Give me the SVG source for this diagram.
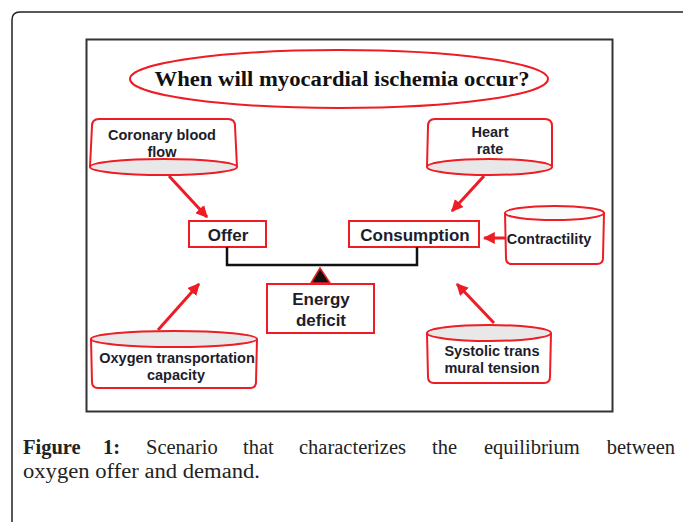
<svg xmlns="http://www.w3.org/2000/svg" width="683" height="522" viewBox="0 0 683 522">
<style>
.lbl{font-family:"Liberation Sans",Arial,sans-serif;font-weight:bold;fill:#1d1d2b;text-anchor:middle}
.s13{font-size:14.5px}
.s15{font-size:17px}
.red{fill:#fff;stroke:#ee1c24;stroke-width:2}
.cap{fill:#e8e8e8;stroke:#ee1c24;stroke-width:2}
.arr{stroke:#ee1c24;stroke-width:3;fill:none;marker-end:url(#ah)}
.cap-t{font-family:"Liberation Serif","Times New Roman",serif;font-size:20.5px;fill:#222}
.b{font-weight:bold}
</style>
<defs>
<marker id="ah" viewBox="0 0 10 10" refX="9" refY="5" markerWidth="4" markerHeight="4" orient="auto" markerUnits="strokeWidth">
<path d="M0,0 L10,5 L0,10 z" fill="#ee1c24"/>
</marker>
</defs>
<rect width="683" height="522" fill="#fff"/>
<path d="M12,522 V20 Q12,12 20,12 H683" fill="none" stroke="#222" stroke-width="1.5"/>
<rect x="86.5" y="39.5" width="526" height="372" fill="#fff" stroke="#333" stroke-width="2"/>

<g id="title">
<ellipse cx="339" cy="79" rx="209" ry="29" fill="none" stroke="#ee1c24" stroke-width="2"/>
<text x="342" y="86" font-family="'Liberation Serif','Times New Roman',serif" font-weight="bold" font-size="20" fill="#111" text-anchor="middle" textLength="375" lengthAdjust="spacingAndGlyphs">When will myocardial ischemia occur?</text>
</g>

<g id="coronary">
<path class="red" d="M90,167 L92,126 Q92,119 99,119 L228,119 Q235,119 235,126 L237,167"/>
<ellipse class="cap" cx="163.5" cy="167" rx="73.5" ry="8"/>
<text class="lbl s13" x="162" y="140">Coronary blood</text>
<text class="lbl s13" x="162" y="157">flow</text>
</g>

<g id="heart">
<path class="red" d="M427,167 L428,126 Q428,119 435,119 L545,119 Q552,119 552,126 L552,167"/>
<ellipse class="cap" cx="489.5" cy="167" rx="62.5" ry="8"/>
<text class="lbl s13" x="490" y="137">Heart</text>
<text class="lbl s13" x="490" y="154">rate</text>
</g>

<g id="contractility">
<path class="red" d="M505,213 L506,258 Q506,264 512,264 L597,264 Q603,264 603,258 L604,213"/>
<ellipse cx="554.5" cy="213" rx="49.5" ry="7" fill="#fafafa" stroke="#ee1c24" stroke-width="2"/>
<text class="lbl s13" x="549" y="244">Contractility</text>
</g>

<g id="oxygen">
<path class="red" d="M91,339 L92,382 Q92,388 98,388 L250,388 Q256,388 256,382 L257,339"/>
<ellipse class="cap" cx="174" cy="339" rx="83" ry="8"/>
<text class="lbl s13" x="177" y="363">Oxygen transportation</text>
<text class="lbl s13" x="176" y="380">capacity</text>
</g>

<g id="systolic">
<path class="red" d="M427,333 L428,377 Q428,383 434,383 L544,383 Q550,383 550,377 L551,333"/>
<ellipse class="cap" cx="489" cy="333" rx="62" ry="8"/>
<text class="lbl s13" x="492" y="356">Systolic trans</text>
<text class="lbl s13" x="492" y="373">mural tension</text>
</g>

<g id="offer">
<rect class="red" x="189" y="221" width="77" height="26"/>
<text class="lbl s15" x="228" y="240.5">Offer</text>
</g>

<g id="consumption">
<rect class="red" x="349" y="221" width="130" height="26"/>
<text class="lbl s15" x="415" y="240.5">Consumption</text>
</g>

<g id="energy">
<rect class="red" x="267" y="284" width="107" height="49"/>
<text class="lbl s15" x="321" y="305">Energy</text>
<text class="lbl s15" x="321" y="326">deficit</text>
</g>

<g id="connectors">
<path d="M227,247 V265 H417 V247" fill="none" stroke="#111" stroke-width="2.5"/>
<path d="M320,268 L330,283 L311,283 Z" fill="#111" stroke="#ee1c24" stroke-width="1.5"/>
<line class="arr" x1="169" y1="176" x2="207" y2="217"/>
<line class="arr" x1="484" y1="176" x2="452" y2="211"/>
<line class="arr" x1="506" y1="238" x2="484" y2="238"/>
<line class="arr" x1="158" y1="330" x2="199" y2="284"/>
<line class="arr" x1="494" y1="323" x2="457" y2="284"/>
</g>

<g id="caption">
<text class="cap-t b" x="23" y="454">Figure</text>
<text class="cap-t b" x="103" y="454">1:</text>
<text class="cap-t" x="146" y="454">Scenario</text>
<text class="cap-t" x="243" y="454">that</text>
<text class="cap-t" x="299" y="454">characterizes</text>
<text class="cap-t" x="432" y="454">the</text>
<text class="cap-t" x="484" y="454">equilibrium</text>
<text class="cap-t" x="675" y="454" text-anchor="end">between</text>
<text class="cap-t" x="23" y="478" textLength="237" lengthAdjust="spacingAndGlyphs">oxygen offer and demand.</text>
</g>
</svg>
